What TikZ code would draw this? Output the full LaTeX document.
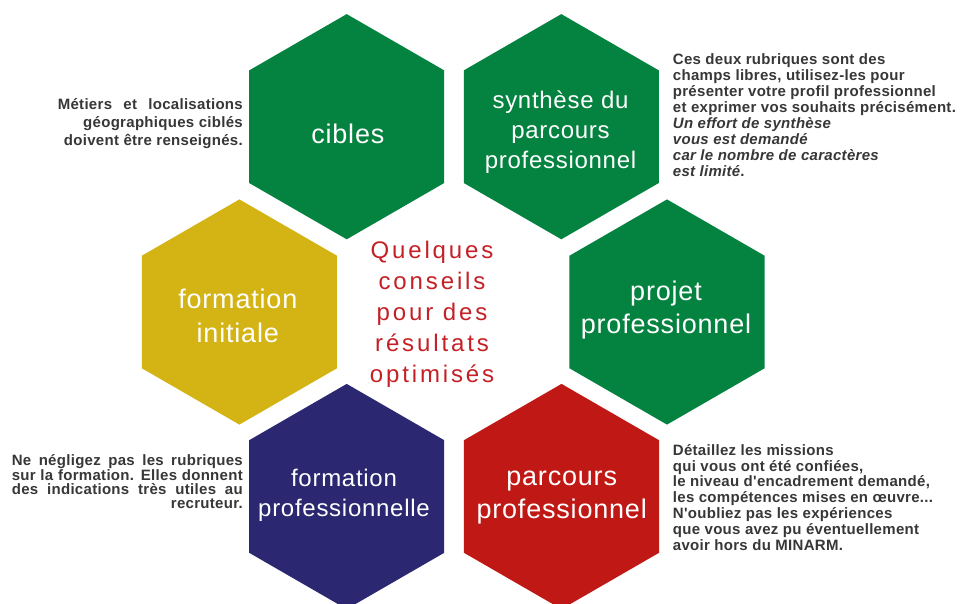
\documentclass[tikz,border=0pt]{standalone}
\usepackage{fontspec}
\setmainfont{Liberation Sans}
\newfontfamily\hexfont{Liberation Sans}[LetterSpace=3]
\newfontfamily\sidefont{Liberation Sans}[LetterSpace=2]
\newfontfamily\centfont{Liberation Sans}[LetterSpace=12]
\usetikzlibrary{shapes.geometric}
\definecolor{hexgreen}{RGB}{4,130,64}
\definecolor{hexyellow}{RGB}{212,180,20}
\definecolor{hexnavy}{RGB}{43,39,112}
\definecolor{hexred}{RGB}{192,24,20}
\definecolor{titlered}{RGB}{196,32,38}
\definecolor{sidegray}{RGB}{55,55,55}
\newcommand{\hstrut}{\rule{0pt}{22pt}}
\newcommand{\sstrut}{\rule{0pt}{12pt}}
\begin{document}
\begin{tikzpicture}[x=1pt,y=-1pt,
  hexagon/.style={shape=regular polygon, regular polygon sides=6,
    regular polygon rotate=30, minimum size=225.2pt, inner sep=0pt,
    outer sep=0pt, draw=none},
  hexbig/.style={anchor=north, inner sep=0pt, text=white, align=center,
    font=\hexfont\fontsize{27}{33.5}\selectfont},
  hexsmall/.style={anchor=north, inner sep=0pt, text=white, align=center,
    font=\hexfont\fontsize{24}{30}\selectfont},
  sidetext/.style={inner sep=0pt, text=sidegray,
    font=\sidefont\bfseries\fontsize{15}{16}\selectfont},
  centtext/.style={anchor=north, inner sep=0pt, text=titlered, align=center,
    font=\centfont\fontsize{24}{31}\selectfont}]
\fill[white] (0,0) rectangle (963,604);
\useasboundingbox (0,0) rectangle (963,604);

% hexagons
\node[hexagon, fill=hexgreen]  (cibles) at (346.7,126.7) {};
\node[hexagon, fill=hexgreen]  (synth)  at (561.3,126.7) {};
\node[hexagon, fill=hexyellow] (finit)  at (239.4,312) {};
\node[hexagon, fill=hexgreen]  (projet) at (667,312) {};
\node[hexagon, fill=hexnavy]   (fpro)   at (346.7,496.5) {};
\node[hexagon, fill=hexred]    (parc)   at (561.5,496.5) {};

% hexagon labels
\node[hexbig]   (cibles-t) at (347.8,121) {\hstrut cibles};
\node[hexsmall] (synth-t)  at (560.5,88.3) {\rule{0pt}{20pt}synthèse du\\parcours\\professionnel};
\node[hexbig]   (finit-t)  at (237.8,286.3) {\hstrut formation\\initiale};
\node[hexbig]   (projet-t) at (666,278) {\hstrut projet\\professionnel};
\node[hexsmall] (fpro-t)   at (344,466.7) {\rule{0pt}{20pt}formation\\professionnelle};
\node[hexbig]   (parc-t)   at (561.7,463) {\hstrut parcours\\professionnel};

% central title
\node[centtext] (title) at (432,238.3) {\rule{0pt}{20pt}Quelques\\conseils\\pour des\\résultats\\optimisés};

% side texts
\node[sidetext, anchor=north east, align=right, font=\sidefont\bfseries\fontsize{15}{18}\selectfont]
  (tl) at (243,97.3) {\sstrut\makebox[185pt][s]{Métiers et localisations}\\géographiques ciblés\\doivent être renseignés.};
\node[sidetext, anchor=north east, align=right, font=\sidefont\bfseries\fontsize{15}{14}\selectfont]
  (bl) at (243,453) {\sstrut\makebox[231pt][s]{Ne négligez pas les rubriques}\\\makebox[231pt][s]{sur la formation. Elles donnent}\\\makebox[231pt][s]{des indications très utiles au}\\recruteur.};
\node[sidetext, anchor=north west, align=left]
  (tr) at (672.7,52.3) {\sstrut Ces deux rubriques sont des\\champs libres, utilisez-les pour\\présenter votre profil professionnel\\et exprimer vos souhaits précisément.\\\textit{Un effort de synthèse}\\\textit{vous est demandé}\\\textit{car le nombre de caractères}\\\textit{est limité}.};
\node[sidetext, anchor=north west, align=left, font=\sidefont\bfseries\fontsize{15}{15.8}\selectfont]
  (br) at (672.7,443) {\sstrut Détaillez les missions\\qui vous ont été confiées,\\le niveau d'encadrement demandé,\\les compétences mises en œuvre...\\N'oubliez pas les expériences\\que vous avez pu éventuellement\\avoir hors du MINARM.};
\end{tikzpicture}
\end{document}
